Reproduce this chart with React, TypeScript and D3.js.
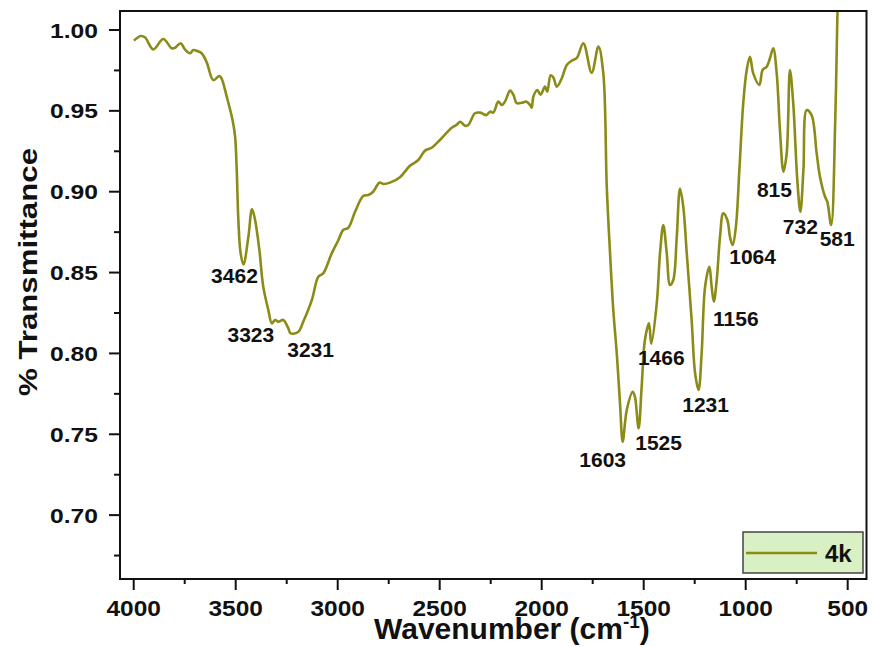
import React from "react";
import * as d3 from "d3";

const wavenumbers = [
  3999, 3966, 3945, 3904, 3855, 3814, 3798, 3770, 3749, 3724, 3708, 3688, 3667, 3642, 3610, 3580, 3569, 3544, 3515, 3503,
  3495, 3487, 3476, 3462, 3438, 3420, 3405, 3384, 3365, 3340, 3323, 3307, 3291, 3267, 3242, 3231, 3193, 3169, 3127, 3095,
  3071, 3029, 2997, 2973, 2948, 2915, 2875, 2850, 2826, 2796, 2776, 2744, 2695, 2646, 2605, 2572, 2539, 2499, 2441, 2417,
  2400, 2376, 2360, 2327, 2302, 2286, 2270, 2253, 2237, 2213, 2196, 2180, 2155, 2139, 2122, 2098, 2074, 2057, 2049, 2041,
  2022, 2005, 1984, 1973, 1956, 1943, 1926, 1902, 1877, 1853, 1828, 1796, 1755, 1722, 1698, 1681, 1665, 1649, 1632, 1616,
  1603, 1583, 1554, 1543, 1525, 1510, 1494, 1474, 1463, 1436, 1420, 1404, 1387, 1371, 1355, 1338, 1322, 1306, 1289, 1265,
  1248, 1231, 1216, 1199, 1178, 1167, 1156, 1142, 1126, 1110, 1090, 1077, 1064, 1048, 1031, 1012, 995, 979, 963, 933,
  917, 897, 881, 865, 848, 832, 815, 799, 783, 767, 747, 732, 717, 701, 677, 652, 636, 611, 600, 581,
  561, 551, 545,
];

const transmittance = [
  0.9934, 0.9963, 0.9955, 0.988, 0.9944, 0.9887, 0.989, 0.9918, 0.988, 0.9856, 0.9876, 0.987, 0.9856, 0.98, 0.969, 0.9716, 0.97, 0.9588, 0.944, 0.934,
  0.9134, 0.8825, 0.862, 0.855, 0.872, 0.8893, 0.8825, 0.864, 0.8413, 0.8268, 0.8186, 0.8207, 0.8196, 0.8207, 0.8155, 0.8124, 0.8134, 0.8196, 0.833, 0.8474,
  0.8495, 0.862, 0.87, 0.8763, 0.8777, 0.8876, 0.8973, 0.898, 0.9, 0.9056, 0.9048, 0.9056, 0.909, 0.916, 0.9196, 0.9254, 0.9272, 0.932, 0.9396, 0.9413,
  0.9433, 0.9408, 0.9413, 0.9485, 0.9489, 0.948, 0.9474, 0.9495, 0.9489, 0.9557, 0.9536, 0.9557, 0.9625, 0.96, 0.9547, 0.955, 0.9557, 0.9536, 0.952, 0.9587,
  0.9629, 0.96, 0.965, 0.9618, 0.972, 0.9707, 0.965, 0.97, 0.9784, 0.981, 0.9827, 0.9918, 0.9736, 0.9897, 0.9732, 0.903, 0.862, 0.8268, 0.8, 0.769,
  0.7454, 0.765, 0.7763, 0.7732, 0.7537, 0.7794, 0.8083, 0.8186, 0.806, 0.831, 0.862, 0.8794, 0.862, 0.8423, 0.8454, 0.872, 0.902, 0.8907, 0.862, 0.8207,
  0.7877, 0.7774, 0.8, 0.8413, 0.8536, 0.8413, 0.832, 0.8454, 0.872, 0.8866, 0.8825, 0.872, 0.867, 0.8784, 0.9134, 0.9547, 0.9753, 0.9835, 0.9732, 0.966,
  0.9753, 0.9773, 0.9825, 0.9887, 0.9732, 0.938, 0.9124, 0.9237, 0.9753, 0.9547, 0.9072, 0.8876, 0.9134, 0.9505, 0.9474, 0.9237, 0.9093, 0.8969, 0.8938, 0.8794,
  0.9443, 1.006, 1.03,
];

const peakLabels = ["3462", "3323", "3231", "1603", "1525", "1466", "1231", "1156", "1064", "815", "732", "581"];
const peakWavenumbers = [3462, 3323, 3231, 1603, 1525, 1463, 1231, 1156, 1064, 815, 732, 581];
const peakValues = [0.855, 0.8186, 0.8124, 0.7454, 0.7537, 0.806, 0.7774, 0.832, 0.867, 0.9124, 0.8876, 0.8794];

const xMajorTicks = [4000, 3500, 3000, 2500, 2000, 1500, 1000, 500];
const xMinorTicks = [3750, 3250, 2750, 2250, 1750, 1250, 750];
const yMajorTicks = [0.7, 0.75, 0.8, 0.85, 0.9, 0.95, 1.0];
const yMinorTicks = [0.675, 0.725, 0.775, 0.825, 0.875, 0.925, 0.975];

const seriesName = "4k";
const xTitle = "Wavenumber (cm";
const xTitleSup = "-1";
const yTitle = "% Transmittance";

// label offsets (px) relative to the peak point: [dx of text center, dy of baseline]
const labelOffsets: [number, number][] = [
  [-9, 19], [-21, 19], [20, 24], [-20, 25], [20, 22], [10, 21], [7, 22], [22, 24], [20, 19], [-9, 25], [0, 22], [6, 21],
];

const W = 872;
const H = 647;
const left = 120;
const right = 866.5;
const top = 11;
const bottom = 579;
const font = "'Liberation Sans', Arial, Helvetica, sans-serif";
const lineColor = "#8b8b18";

export default function App() {
  const x = d3.scaleLinear().domain([4067.2, 407.8]).range([left, right]);
  const y = d3.scaleLinear().domain([0.6605, 1.01175]).range([bottom, top]);

  const pts = wavenumbers.map((w, i) => [w, transmittance[i]] as [number, number]);
  const line = d3
    .line<[number, number]>()
    .x((d) => x(d[0]))
    .y((d) => y(d[1]))
    .curve(d3.curveCatmullRom.alpha(0.5));

  return (
    <svg
      width={W}
      height={H}
      style={{ position: "absolute", left: 0, top: 0, background: "#fff" }}
      fontFamily={font}
    >
      <defs>
        <clipPath id="plotclip">
          <rect x={left} y={top} width={right - left} height={bottom - top} />
        </clipPath>
      </defs>
      <rect x={0} y={0} width={W} height={H} fill="#fff" />

      {/* data line */}
      <path
        d={line(pts) || ""}
        fill="none"
        stroke={lineColor}
        strokeWidth={2.6}
        strokeLinejoin="round"
        clipPath="url(#plotclip)"
      />

      {/* frame */}
      <rect x={left} y={top} width={right - left} height={bottom - top} fill="none" stroke="#111" strokeWidth={2} />

      {/* x ticks */}
      {xMajorTicks.map((t) => (
        <g key={"xm" + t}>
          <line x1={x(t)} x2={x(t)} y1={bottom} y2={bottom + 11} stroke="#111" strokeWidth={2} />
          <text
            x={x(t)}
            y={616}
            textAnchor="middle"
            fontSize={22.5}
            fontWeight="bold"
            fill="#111"
            textLength={13.6 * String(t).length}
            lengthAdjust="spacingAndGlyphs"
          >
            {t}
          </text>
        </g>
      ))}
      {xMinorTicks.map((t) => (
        <line key={"xn" + t} x1={x(t)} x2={x(t)} y1={bottom} y2={bottom + 5} stroke="#111" strokeWidth={2} />
      ))}

      {/* y ticks */}
      {yMajorTicks.map((t) => (
        <g key={"ym" + t}>
          <line x1={left - 11} x2={left} y1={y(t)} y2={y(t)} stroke="#111" strokeWidth={2} />
          <text
            x={98}
            y={y(t) + 7.5}
            textAnchor="end"
            fontSize={21}
            fontWeight="bold"
            fill="#111"
            textLength={48}
            lengthAdjust="spacingAndGlyphs"
          >
            {t.toFixed(2)}
          </text>
        </g>
      ))}
      {yMinorTicks.map((t) => (
        <line key={"yn" + t} x1={left - 6} x2={left} y1={y(t)} y2={y(t)} stroke="#111" strokeWidth={2} />
      ))}

      {/* axis titles */}
      <text
        transform={`translate(37, 272) rotate(-90)`}
        textAnchor="middle"
        fontSize={26}
        fontWeight="bold"
        fill="#111"
        textLength={248}
        lengthAdjust="spacingAndGlyphs"
      >
        {yTitle}
      </text>
      <text x={374} y={639} fontSize={30} fontWeight="bold" fill="#111">
        {xTitle}
        <tspan fontSize={19} dy={-11}>
          {xTitleSup}
        </tspan>
        <tspan fontSize={30} dy={11}>
          )
        </tspan>
      </text>

      {/* peak labels */}
      {peakLabels.map((lab, i) => (
        <text
          key={"pk" + lab}
          x={x(peakWavenumbers[i]) + labelOffsets[i][0]}
          y={y(peakValues[i]) + labelOffsets[i][1]}
          textAnchor="middle"
          fontSize={21}
          fontWeight="bold"
          fill="#111"
        >
          {lab}
        </text>
      ))}

      {/* legend */}
      <rect x={743} y={532} width={120} height={41} fill="#d9efc4" stroke="#444" strokeWidth={1.5} />
      <line x1={746} x2={817} y1={553} y2={553} stroke={lineColor} strokeWidth={2.6} />
      <text x={825} y={562} fontSize={24} fontWeight="bold" fill="#111">
        {seriesName}
      </text>
    </svg>
  );
}
